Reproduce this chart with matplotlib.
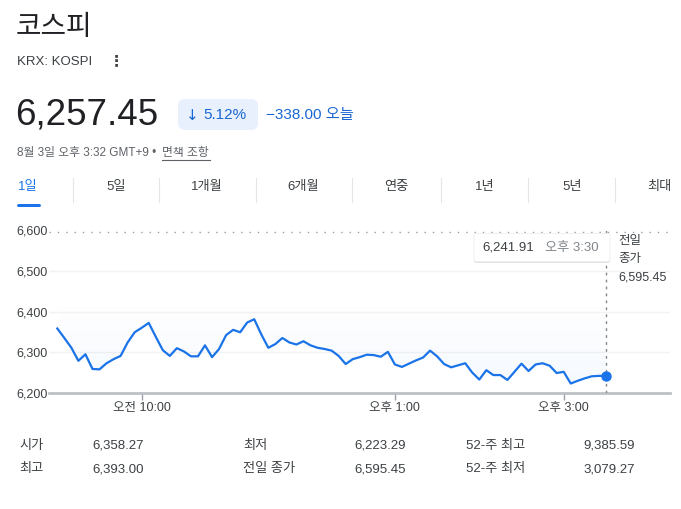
import numpy as np
import matplotlib
matplotlib.use('Agg')
from matplotlib import pyplot as plt
from matplotlib.patches import FancyBboxPatch
from matplotlib.lines import Line2D

plt.rcParams['font.family'] = ['Liberation Sans', 'Noto Sans CJK KR', 'DejaVu Sans']

#------------------------------------------------------------------
#-------------------- Dados ---------------------------------------
#------------------------------------------------------------------
# minutos desde 09:00, a cada 5 minutos ate 15:30
minutos = list(range(0, 391, 5))
precos = [6358.27, 6335, 6311, 6279, 6295, 6259, 6258, 6273, 6283, 6291,
          6324, 6349, 6360, 6372, 6338, 6305, 6291, 6310, 6302, 6290,
          6290, 6317, 6288, 6308, 6342, 6355, 6349, 6373, 6381, 6344,
          6311, 6320, 6335, 6324, 6319, 6327, 6317, 6311, 6308, 6304,
          6291, 6271, 6283, 6288, 6294, 6293, 6289, 6301, 6270, 6264,
          6272, 6280, 6287, 6304, 6290, 6271, 6263, 6268, 6273, 6250,
          6233, 6256, 6244, 6244, 6232, 6252, 6272, 6254, 6270, 6273,
          6267, 6249, 6252, 6223.29, 6230, 6236, 6241, 6242, 6241.91]
fechamentoAnterior = 6595.45
ticksY = [6200, 6300, 6400, 6500, 6600]
ticksX = [60, 240, 360]
rotulosX = ['오전 10:00', '오후 1:00', '오후 3:00']
abas = ['1일', '5일', '1개월', '6개월', '연중', '1년', '5년', '최대']
resumo = [('시가', '6,358.27'), ('최고', '6,393.00'),
          ('최저', '6,223.29'), ('전일 종가', '6,595.45'),
          ('52-주 최고', '9,385.59'), ('52-주 최저', '3,079.27')]

#------------------------------------------------------------------
#-------------------- Figura --------------------------------------
#------------------------------------------------------------------
W, H = 681, 509
fig = plt.figure(figsize=(W / 100, H / 100), dpi=100)
fig.patch.set_facecolor('white')
AZUL = '#1a73e8'
ESCURO = '#202124'
CINZA = '#5f6368'

def px(x, y):
    return x / W, 1 - y / H

def texto(x, y, s, **kw):
    kw.setdefault('va', 'center')
    kw.setdefault('color', ESCURO)
    return fig.text(*px(x, y), s, **kw)

# cabecalho
texto(16, 28, '코스피', fontsize=20, fontweight='medium')
texto(17, 62, 'KRX: KOSPI', fontsize=9.5, color='#3c4043')
texto(109, 61, '⋮', fontsize=11, color='#3c4043', fontweight='bold', family='DejaVu Sans')
texto(15, 115, '6,257.45', fontsize=26.5)

caixa = FancyBboxPatch(px(178, 130), 80 / W, 31 / H, boxstyle='round,pad=0,rounding_size=0.012',
                       transform=fig.transFigure, facecolor='#e8f0fe', edgecolor='none')
fig.patches.append(caixa)
texto(186, 115, '↓', fontsize=11, color='#1967d2', family='DejaVu Sans')
texto(203, 115, '5.12%', fontsize=11, color='#1967d2')
texto(266, 115, '−338.00 오늘', fontsize=11, color='#1967d2')

texto(17, 153, '8월 3일 오후 3:32 GMT+9 •', fontsize=8.5, color=CINZA)
texto(162, 153, '면책 조항', fontsize=8.5, color=CINZA)
fig.lines.append(Line2D([162 / W, 210 / W], [1 - 159.5 / H] * 2, transform=fig.transFigure,
                        color=CINZA, lw=0.8))

# abas
posAbas = [28, 116, 207, 303, 396, 485, 572, 659]
for i, (nome, x) in enumerate(zip(abas, posAbas)):
    texto(x, 187, nome, fontsize=9.5, ha='center', color=AZUL if i == 0 else '#3c4043')
for x in [73, 159, 256, 352, 441, 528, 615]:
    fig.lines.append(Line2D([x / W] * 2, [1 - 178 / H, 1 - 202 / H], transform=fig.transFigure,
                            color='#e3e5e8', lw=0.8))
sub = FancyBboxPatch(px(17, 207), 24 / W, 3 / H, boxstyle='round,pad=0,rounding_size=0.003',
                     transform=fig.transFigure, facecolor=AZUL, edgecolor='none')
fig.patches.append(sub)

# grafico
x0 = (49 - 57.3) / 84.4 * 60
x1 = (670 - 57.3) / 84.4 * 60
ax = fig.add_axes([49 / W, 1 - 393 / H, (670 - 49) / W, (393 - 230) / H])
for s in ax.spines.values():
    s.set_visible(False)
ax.set_facecolor('none')

for v in ticksY[1:-1]:
    ax.axhline(v, color='#f1f3f4', lw=1, zorder=0)
ax.axhline(fechamentoAnterior, color='#9aa0a6', lw=1, ls=(0, (1, 5)), zorder=1)
ax.axhline(6200, color='#bdc1c6', lw=2, zorder=2, clip_on=False)

# preenchimento em degrade acima da linha
poly = ax.fill_between(minutos, precos, fechamentoAnterior, color='none', lw=0)
grad = np.zeros((200, 2, 4))
grad[..., 0] = 26 / 255
grad[..., 1] = 115 / 255
grad[..., 2] = 232 / 255
alfa = np.clip((6430 - np.linspace(6600, 6200, 200)) / 230, 0, 1) * 0.045
grad[..., 3] = alfa[:, None]
im = ax.imshow(grad, extent=[0, 390, 6200, 6600], aspect='auto', zorder=1, interpolation='bilinear')
im.set_clip_path(poly.get_paths()[0], transform=ax.transData)
ax.set_xlim(x0, x1)
ax.set_ylim(6200, 6600)

ax.plot(minutos, precos, color=AZUL, lw=1.6, zorder=3)
ax.axvline(390, color='#80868b', lw=1, ls=(0, (2, 3)), zorder=2)
ax.plot([390], [precos[-1]], 'o', color=AZUL, ms=6.5, zorder=4)

ax.set_yticks(ticksY)
ax.set_yticklabels([f'{v:,}' for v in ticksY], fontsize=9, color='#3c4043')
ax.tick_params(axis='y', length=0, pad=1)
ax.set_xticks(ticksX)
ax.set_xticklabels(rotulosX, fontsize=9, color='#3c4043')
ax.tick_params(axis='x', length=5, width=1, color='#9aa0a6', pad=1.5, direction='out')

# tooltip
sombra = FancyBboxPatch(px(474, 263), 136 / W, 28 / H, boxstyle='round,pad=0,rounding_size=0.004',
                        transform=fig.transFigure, facecolor='#e3e3e3', edgecolor='none', zorder=5)
fig.patches.append(sombra)
tip = FancyBboxPatch(px(474, 261.5), 136 / W, 28 / H, boxstyle='round,pad=0,rounding_size=0.004',
                     transform=fig.transFigure, facecolor='white', edgecolor='#eceef0', lw=0.6, zorder=6)
fig.patches.append(tip)
texto(482, 248, '6,241.91', fontsize=9.5, color='#3c4043', zorder=7)
texto(545, 248, '오후 3:30', fontsize=9.5, color='#80868b', zorder=7)

texto(618, 241, '전일', fontsize=9, color='#3c4043')
texto(618, 259, '종가', fontsize=9, color='#3c4043')
texto(618, 277, '6,595.45', fontsize=9, color='#3c4043')

# resumo
colRotulo = [19, 243, 466]
colValor = [92, 354, 583]
for i, (nome, valor) in enumerate(resumo):
    c, r = divmod(i, 2)
    y = 446 + r * 23
    texto(colRotulo[c], y, nome, fontsize=9.5, color='#3c4043')
    texto(colValor[c], y, valor, fontsize=9.5, color='#3c4043')

fig.savefig('out.png', dpi=100)
